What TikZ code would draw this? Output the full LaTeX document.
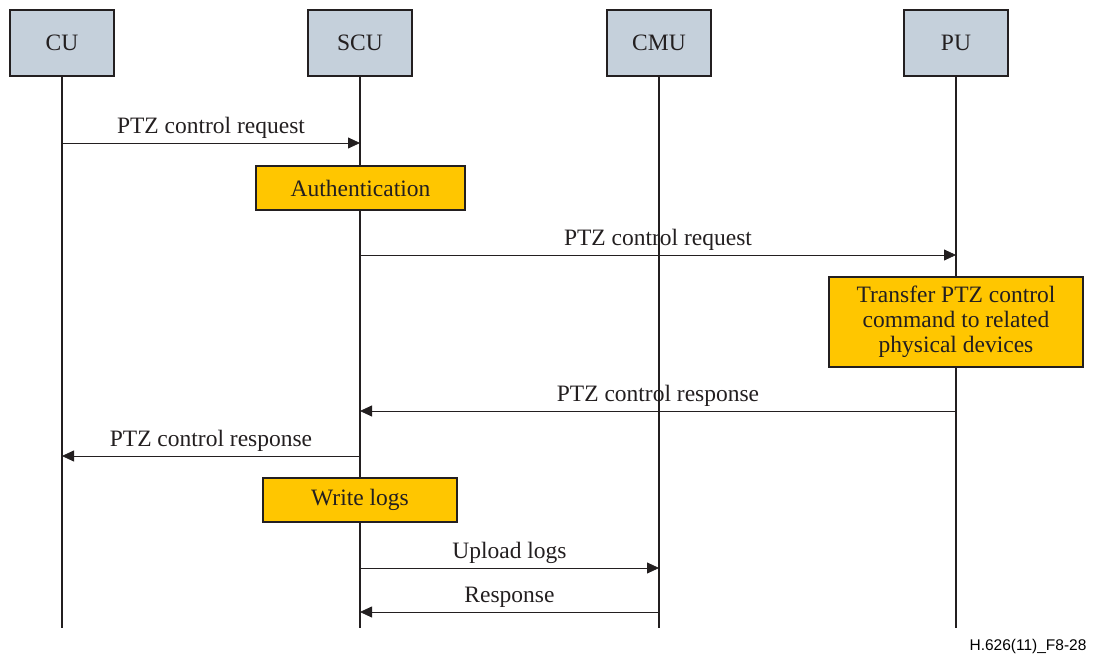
\documentclass[tikz,border=0pt]{standalone}
\usepackage{fontspec}
\setmainfont{Liberation Serif}
\newfontfamily\footfont{Liberation Sans}
\usetikzlibrary{arrows.meta,calc}
\definecolor{entfill}{RGB}{197,208,219}
\definecolor{actfill}{RGB}{255,198,0}
\definecolor{ink}{RGB}{35,31,32}
\begin{document}
\begin{tikzpicture}[x=1pt,y=-1pt,
  every node/.style={font=\fontsize{23.5}{25}\selectfont, text=ink},
  entity/.style={draw=ink, line width=1.6pt, fill=entfill, minimum width=104pt, minimum height=66pt, inner sep=0pt},
  action/.style={draw=ink, line width=1.6pt, fill=actfill, inner sep=0pt, align=center},
  lifeline/.style={draw=ink, line width=1.7pt},
  msg/.style={draw=ink, line width=0.8pt, -{Triangle[length=12pt,width=11pt]}},
  lbl/.style={anchor=base}
]
\useasboundingbox (0,0) rectangle (1093,655);
% entities
\node[entity] (CU) at (62,43) {CU};
\node[entity] (SCU) at (360,43) {SCU};
\node[entity] (CMU) at (659,43) {CMU};
\node[entity] (PU) at (956,43) {PU};
% lifeline ends
\coordinate (CUe) at (62,628);
\coordinate (SCUe) at (360,628);
\coordinate (CMUe) at (659,628);
\coordinate (PUe) at (956,628);
\draw[lifeline] (CU.south) -- (CUe);
\draw[lifeline] (SCU.south) -- (SCUe);
\draw[lifeline] (CMU.south) -- (CMUe);
\draw[lifeline] (PU.south) -- (PUe);
% messages
\draw[msg] (CU.south |- 0,143) -- node[lbl, above=1pt] {PTZ control request} (SCU.south |- 0,143);
\node[action, minimum width=209pt, minimum height=44pt] (auth) at (360.5,188) {Authentication};
\draw[msg] (SCU.south |- 0,255) -- node[lbl, above=1pt] {PTZ control request} (PU.south |- 0,255);
\node[action, minimum width=254pt, minimum height=90pt] (xfer) at (956,322) {Transfer PTZ control\\command to related\\physical devices};
\draw[msg] (PU.south |- 0,411) -- node[lbl, above=1pt] {PTZ control response} (SCU.south |- 0,411);
\draw[msg] (SCU.south |- 0,456) -- node[lbl, above=1pt] {PTZ control response} (CU.south |- 0,456);
\node[action, minimum width=194pt, minimum height=44pt] (logs) at (360,500) {Write logs};
\draw[msg] (SCU.south |- 0,568) -- node[lbl, above=1pt] {Upload logs} (CMU.south |- 0,568);
\draw[msg] (CMU.south |- 0,612) -- node[lbl, above=1pt] {Response} (SCU.south |- 0,612);
% figure id
\node[anchor=base east, font=\footfont\fontsize{15.5}{18}\selectfont, text=black] (figid) at (1090,650) {H.626(11)\_F8-28};
\end{tikzpicture}
\end{document}
